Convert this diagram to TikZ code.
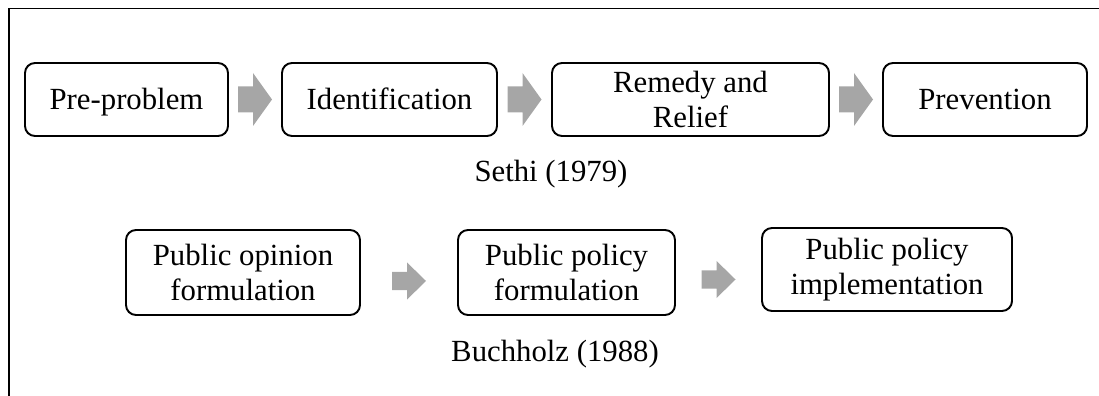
\documentclass[tikz,border=0pt]{standalone}
\usepackage{fontspec}
\setmainfont{Liberation Serif}
\usepackage{xcolor}
\usepackage{tikz}
\usetikzlibrary{positioning,shapes,arrows,calc}

\definecolor{arrowgray}{RGB}{166,166,166}

\tikzset{
    stagebox/.style={draw, line width=1.1pt, rounded corners=0.2cm, align=center, inner sep=0pt,
        font=\fontsize{17.5}{19.9}\selectfont},
    oneline/.style={text height=11.5pt, text depth=0pt},
    source/.style={anchor=base, font=\fontsize{17.5}{20}\selectfont},
    blockarrow/.pic={
        \fill[arrowgray] (-0.34,-0.26) -- (-0.04,-0.26) -- (-0.04,-0.53) -- (0.34,0)
            -- (-0.04,0.53) -- (-0.04,0.26) -- (-0.34,0.26) -- cycle;
    }
}

\begin{document}
\begin{tikzpicture}
    \useasboundingbox (0,0) rectangle (21.98,7.92);
    \draw[line width=0.9pt] (0.18,0) -- (0.18,7.75) -- (21.98,7.75);

    % Sethi (1979)
    \node[stagebox, oneline, minimum width=4.06cm, minimum height=1.46cm] (pre) at (2.53,5.93) {Pre-problem};
    \node[stagebox, oneline, minimum width=4.3cm, minimum height=1.46cm] (ident) at (7.79,5.93) {Identification};
    \node[stagebox, minimum width=5.54cm, minimum height=1.46cm] (remedy) at (13.81,5.93) {Remedy and\\Relief};
    \node[stagebox, oneline, minimum width=4.08cm, minimum height=1.46cm] (prev) at (19.7,5.93) {Prevention};
    \pic at ($(pre.east)!0.5!(ident.west)$) {blockarrow};
    \pic at ($(ident.east)!0.5!(remedy.west)$) {blockarrow};
    \pic at ($(remedy.east)!0.5!(prev.west)$) {blockarrow};
    \node[source] (sethi) at (11.02,4.28) {Sethi (1979)};

    % Buchholz (1988)
    \node[stagebox, minimum width=4.68cm, minimum height=1.7cm] (opinion) at (4.86,2.47) {Public opinion\\formulation};
    \node[stagebox, minimum width=4.34cm, minimum height=1.7cm] (policy) at (11.33,2.47) {Public policy\\formulation};
    \node[stagebox, minimum width=5.0cm, minimum height=1.66cm] (impl) at (17.74,2.53) {Public policy\\implementation};
    \pic[yshift=-0.17cm, yscale=0.7] at ($(opinion.east)!0.5!(policy.west)$) {blockarrow};
    \pic[yshift=-0.17cm, yscale=0.7] at ($(policy.east)!0.5!(impl.west)$) {blockarrow};
    \node[source] (buchholz) at (11.1,0.68) {Buchholz (1988)};
\end{tikzpicture}
\end{document}
